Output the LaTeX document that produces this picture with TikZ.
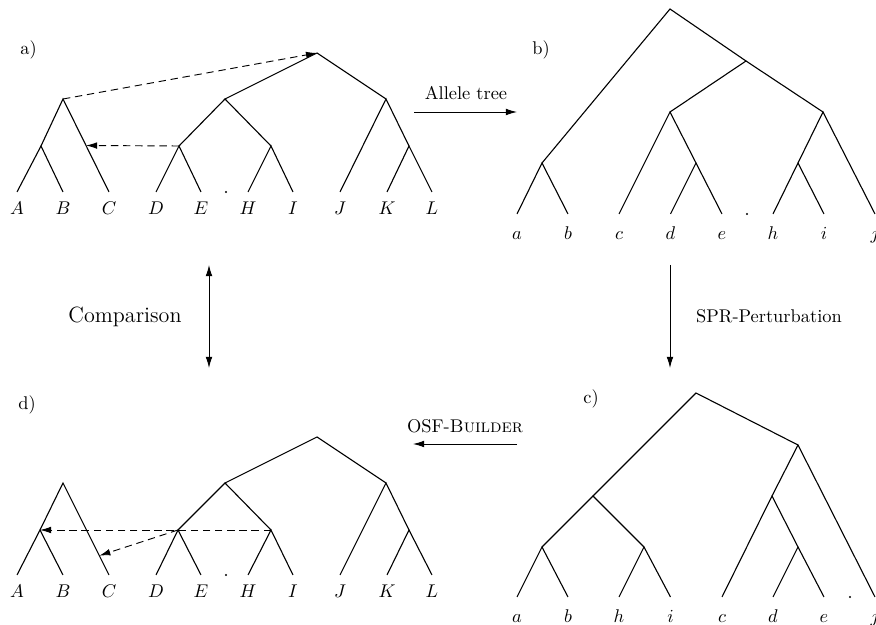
\documentclass[tikz,border=0pt]{standalone}
\usetikzlibrary{arrows.meta,calc}
\begin{document}
\begin{tikzpicture}[x=0.5434pt,y=-0.5434pt,
  edge/.style={line width=0.6pt},
  flow/.style={line width=0.5pt,-{Latex[length=6pt,width=3.6pt]}},
  dflow/.style={line width=0.5pt,{Latex[length=6pt,width=3.6pt]}-{Latex[length=6pt,width=3.6pt]}},
  dashln/.style={line width=0.5pt,dash pattern=on 4pt off 2.6pt,-{Latex[length=6pt,width=3.6pt]}},
  leaf/.style={anchor=base,inner sep=0pt,font=\normalsize},
  panel/.style={anchor=base west,inner sep=0pt},
  tiny/.style={fill,circle,inner sep=0pt,minimum size=1.1pt}]
\useasboundingbox (0,0) rectangle (876,625);

% ---------- tree a ----------
\foreach \n/\x in {A/17,B/63,C/109,D/156,E/201,H/248,I/293,J/340,K/387,L/432}
  {\coordinate (a\n) at (\x,192);
   \node[leaf] (la\n) at (\x,215) {$\n$};}
\coordinate (aab) at (41,146);
\coordinate (aabc) at (63,99);
\coordinate (ade) at (179,146);
\coordinate (ahi) at (271,146);
\coordinate (adehi) at (225,99);
\coordinate (aroot) at (317,53);
\coordinate (akl) at (409,146);
\coordinate (ajkl) at (386,99);
\draw[edge] (aA) -- (aab) -- (aB);
\draw[edge] (aab) -- (aabc) -- (aC);
\draw[edge] (aD) -- (ade) -- (aE);
\draw[edge] (aH) -- (ahi) -- (aI);
\draw[edge] (ade) -- (adehi) -- (ahi);
\draw[edge] (adehi) -- (aroot) -- (ajkl);
\draw[edge] (aJ) -- (ajkl) -- (akl);
\draw[edge] (aK) -- (akl) -- (aL);
\node[tiny] (adot) at (226,192) {};
\coordinate (aCmid) at ($(aabc)!0.5!(aC)$);
\draw[dashln] (aabc) -- (aroot);
\draw[dashln] (ade) -- (aCmid);
\node[panel] (pa) at (20,55) {a)};

% ---------- tree d ----------
\foreach \n/\x in {A/17,B/63,C/109,D/156,E/201,H/248,I/293,J/340,K/387,L/432}
  {\coordinate (d\n) at (\x,575);
   \node[leaf] (ld\n) at (\x,598) {$\n$};}
\coordinate (dab) at (40,530);
\coordinate (dabc) at (63,483);
\coordinate (dde) at (178,530);
\coordinate (dhi) at (271,530);
\coordinate (ddehi) at (225,483);
\coordinate (droot) at (317,437);
\coordinate (dkl) at (409,530);
\coordinate (djkl) at (386,483);
\draw[edge] (dA) -- (dab) -- (dB);
\draw[edge] (dab) -- (dabc) -- (dC);
\draw[edge] (dD) -- (dde) -- (dE);
\draw[edge] (dH) -- (dhi) -- (dI);
\draw[edge] (dde) -- (ddehi) -- (dhi);
\draw[edge] (ddehi) -- (droot) -- (djkl);
\draw[edge] (dJ) -- (djkl) -- (dkl);
\draw[edge] (dK) -- (dkl) -- (dL);
\node[tiny] (ddot) at (226,575) {};
\coordinate (dCpt) at ($(dabc)!0.79!(dC)$);
\draw[dashln] (dhi) -- (dab);
\draw[dashln] (dde) -- (dCpt);
\node[panel] (pd) at (18,410) {d)};

% ---------- tree b ----------
\foreach \n/\x in {a/517,b/568,c/619,d/670.5,e/722,h/773,i/824,j/875}
  {\coordinate (b\n) at (\x,214);
   \node[leaf] (lb\n) at (\x,240) {$\n$};}
\coordinate (bab) at (542,163);
\coordinate (bde) at (696,163);
\coordinate (bhi) at (798,163);
\coordinate (bcde) at (670,112);
\coordinate (bhij) at (823,112);
\coordinate (bmid) at (746,61);
\coordinate (broot) at (670,9);
\draw[edge] (ba) -- (bab) -- (bb);
\draw[edge] (bab) -- (broot) -- (bmid);
\draw[edge] (bcde) -- (bmid) -- (bhij);
\draw[edge] (bc) -- (bcde) -- (bde);
\draw[edge] (bd) -- (bde) -- (be);
\draw[edge] (bhi) -- (bhij) -- (bj);
\draw[edge] (bh) -- (bhi) -- (bi);
\node[tiny] (bdot) at (747,214) {};
\node[panel] (pb) at (532,55) {b)};

% ---------- tree c ----------
\foreach \n/\x in {a/517,b/568,h/619,i/670.5,c/722,d/773,e/824,j/875}
  {\coordinate (c\n) at (\x,597);
   \node[leaf] (lc\n) at (\x,623) {$\n$};}
\coordinate (cab) at (542,547);
\coordinate (chi) at (644,547);
\coordinate (cabhi) at (593,496);
\coordinate (cde) at (798,547);
\coordinate (ccde) at (772,496);
\coordinate (ccdej) at (798,445);
\coordinate (croot) at (696,393);
\draw[edge] (ca) -- (cab) -- (cb);
\draw[edge] (ch) -- (chi) -- (ci);
\draw[edge] (cab) -- (cabhi) -- (chi);
\draw[edge] (cabhi) -- (croot) -- (ccdej);
\draw[edge] (ccde) -- (ccdej) -- (cj);
\draw[edge] (cc) -- (ccde) -- (cde);
\draw[edge] (cd) -- (cde) -- (ce);
\node[tiny] (cdot) at (850,597) {};
\node[panel] (pc) at (583,404) {c)};

% ---------- process arrows ----------
\coordinate (al1) at (414,112);
\coordinate (al2) at (517,112);
\draw[flow] (al1) -- (al2);
\node[anchor=base,inner sep=0pt] (allele) at (466,100) {Allele tree};

\coordinate (sp1) at (670,265);
\coordinate (sp2) at (670,368);
\draw[flow] (sp1) -- (sp2);
\node[anchor=base,inner sep=0pt] (spr) at (769,323) {SPR-Perturbation};

\coordinate (os1) at (517,444);
\coordinate (os2) at (413,444);
\draw[flow] (os1) -- (os2);
\node[anchor=base,inner sep=0pt] (osf) at (465,433) {OSF-\textsc{Builder}};

\coordinate (cm1) at (209,265);
\coordinate (cm2) at (209,368);
\draw[dflow] (cm1) -- (cm2);
\node[anchor=base,inner sep=0pt,font=\large] (comp) at (125,323) {Comparison};
\end{tikzpicture}
\end{document}
